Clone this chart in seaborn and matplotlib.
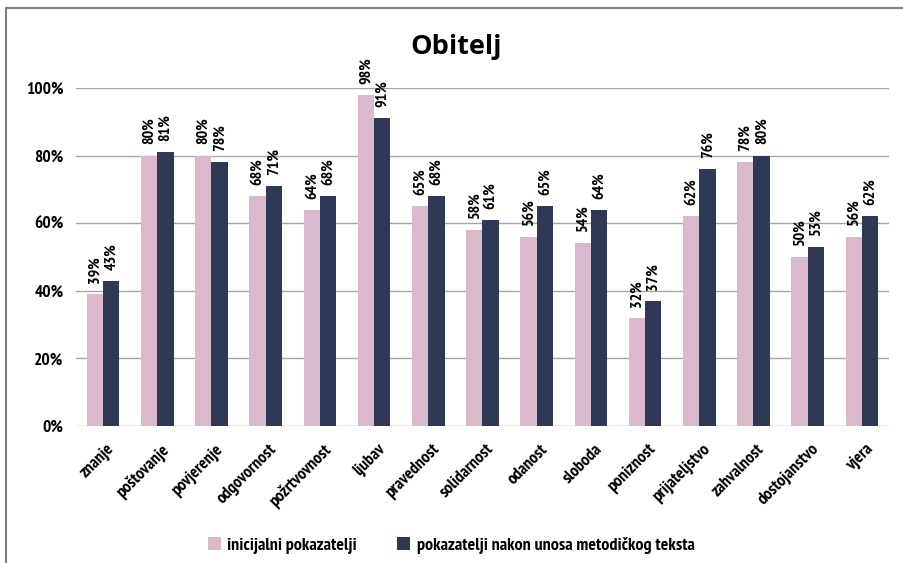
import matplotlib
matplotlib.use("Agg")
import matplotlib.pyplot as plt
import matplotlib.patheffects as pe
import matplotlib.transforms as mtransforms
import seaborn as sns
import pandas as pd
from matplotlib.patches import Patch
from matplotlib.lines import Line2D
from matplotlib import font_manager
from matplotlib.font_manager import FontProperties

categories = ["znanje", "poštovanje", "povjerenje", "odgovornost", "požrtvovnost",
              "ljubav", "pravednost", "solidarnost", "odanost", "sloboda",
              "poniznost", "prijateljstvo", "zahvalnost", "dostojanstvo", "vjera"]
initial = [39, 80, 80, 68, 64, 98, 65, 58, 56, 54, 32, 62, 78, 50, 56]
after = [43, 81, 78, 71, 68, 91, 68, 61, 65, 64, 37, 76, 80, 53, 62]
series_names = ["inicijalni pokazatelji", "pokazatelji nakon unosa metodičkog teksta"]
colors = ["#DBB9CD", "#2E3A55"]

df = pd.DataFrame({
    "kategorija": categories * 2,
    "vrijednost": [v / 100 for v in initial + after],
    "serija": [series_names[0]] * len(categories) + [series_names[1]] * len(categories),
})

sns.set_theme(style="white")


def _weight(w):
    if isinstance(w, str):
        return font_manager.weight_dict.get(w, 400)
    return w


# bold narrow face for all chart text; fall back to a stroked regular face
faces = font_manager.fontManager.ttflist
narrow = [f for f in faces if "Narrow" in f.name and f.style == "normal"]
narrow_bold = [f for f in narrow if _weight(f.weight) >= 600]
if narrow_bold:
    font_file = narrow_bold[0].fname
    thicken = []
elif narrow:
    font_file = narrow[0].fname
    thicken = [pe.withStroke(linewidth=0.75, foreground="black")]
else:
    font_file = None
    thicken = []


def fp(size):
    if font_file:
        return FontProperties(fname=font_file, size=size)
    return FontProperties(family="DejaVu Sans", weight="bold", stretch="condensed", size=size)


plt.rcParams["text.color"] = "black"
plt.rcParams["xtick.color"] = "black"
plt.rcParams["ytick.color"] = "black"

W, H = 904, 563
fig = plt.figure(figsize=(W / 100, H / 100), dpi=100)
ax = fig.add_axes([76 / W, 1 - 426 / H, (889 - 76) / W, (426 - 88) / H])

sns.barplot(data=df, x="kategorija", y="vrijednost", hue="serija",
            palette=colors, width=0.6, gap=0, saturation=1, linewidth=0,
            ax=ax, legend=False)

ax.set_ylim(0, 1)
ax.set_xlim(-0.5, len(categories) - 0.5)
ticks = [0, 0.2, 0.4, 0.6, 0.8, 1.0]
ax.set_yticks(ticks)
ax.set_yticklabels([f"{round(t * 100)}%" for t in ticks], fontproperties=fp(12.5))
ax.yaxis.grid(True, color="#A6A6A6", linewidth=1.0)
ax.set_axisbelow(True)
for s in ax.spines.values():
    s.set_visible(False)
ax.tick_params(axis="y", length=0, pad=9)
ax.tick_params(axis="x", length=0, pad=11)
ax.set_xlabel("")
ax.set_ylabel("")
ax.set_xticks(range(len(categories)))
ax.set_xticklabels(categories, rotation=45, ha="right", rotation_mode="anchor",
                   fontproperties=fp(12.5))
shift = mtransforms.ScaledTranslation(3 / 100, 0, fig.dpi_scale_trans)
for lbl in ax.get_xticklabels():
    lbl.set_transform(lbl.get_transform() + shift)
for lbl in ax.get_xticklabels() + ax.get_yticklabels():
    lbl.set_path_effects(thicken)

for cont, vals in zip(ax.containers, [initial, after]):
    texts = ax.bar_label(cont, labels=[f"{v}%" for v in vals], rotation=90, padding=8,
                         fontproperties=fp(11.5), clip_on=False)
    for t in texts:
        t.set_path_effects(thicken)

fig.text(0.505, 1 - 47 / H, "Obitelj", ha="center", va="center", fontsize=19.5,
         fontweight="bold", family=["Open Sans", "DejaVu Sans"])

handles = [Patch(facecolor=c, edgecolor="none") for c in colors]
leg = fig.legend(handles, series_names, loc="center", bbox_to_anchor=(451 / W, 1 - 545 / H),
                 ncol=2, frameon=False, handlelength=0.72,
                 handleheight=0.72, columnspacing=2.25, handletextpad=0.35,
                 prop=fp(13))
for t in leg.get_texts():
    t.set_path_effects(thicken)

# outer frame: top and left edges
fig.add_artist(Line2D([6 / W, 1.0], [1 - 8 / H, 1 - 8 / H], transform=fig.transFigure,
                      color="#7F7F7F", linewidth=1.5))
fig.add_artist(Line2D([6 / W, 6 / W], [0.0, 1 - 8 / H], transform=fig.transFigure,
                      color="#7F7F7F", linewidth=1.5))

fig.savefig("out.png", dpi=100)
